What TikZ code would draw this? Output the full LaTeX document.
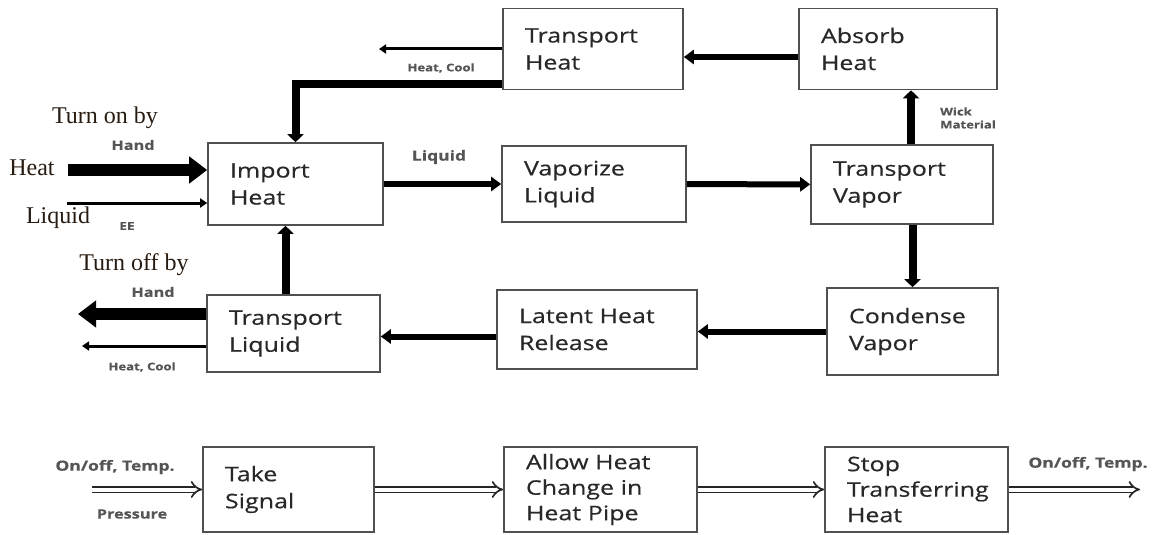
\documentclass[tikz,border=0pt]{standalone}
\usepackage{fontspec}
\setmainfont{Liberation Serif}
\newfontfamily\boxfont[FakeStretch=1.25,FakeBold=0.5]{Open Sans}
\usetikzlibrary{arrows.meta}
\definecolor{boxline}{RGB}{80,80,80}
\definecolor{boxtext}{RGB}{40,40,40}
\definecolor{lblgray}{RGB}{85,85,85}
\definecolor{serifink}{RGB}{40,28,18}

\begin{document}
\begin{tikzpicture}[x=1pt,y=-1pt,
  fn/.style={draw=boxline, line width=1.6pt, fill=white, align=left, inner xsep=22pt, inner ysep=2pt, text=boxtext, font=\boxfont\fontsize{20}{27}\selectfont},
  fn3/.style={fn, font=\boxfont\fontsize{20}{25.5}\selectfont},
  lbl/.style={text=lblgray, inner sep=0pt, font=\boxfont\bfseries\fontsize{13}{15}\selectfont},
  tiny/.style={text=lblgray, inner sep=0pt, align=left, font=\boxfont\bfseries\fontsize{10.5}{13}\selectfont},
  serif/.style={text=serifink, inner sep=0pt, font=\fontsize{24}{26}\selectfont},
  heavy/.style={line width=12pt, -{Triangle[width=26pt,length=18pt]}},
  flow/.style={line width=6pt, -{Triangle[width=14pt,length=10pt]}},
  vflow/.style={line width=8pt, -{Triangle[width=16pt,length=8pt]}},
  thin/.style={line width=3pt, -{Triangle[width=9pt,length=7pt]}},
  sig/.style={draw=black!85, double=white, line width=1.7pt, double distance=4pt, -{Implies}},
]
\useasboundingbox (0,0) rectangle (1161,535);
\fill[white] (0,0) rectangle (1161,535);

% ---------- function boxes ----------
\node[fn, text width=136pt, minimum height=81pt] (theat)    at (593,49)    {Transport\\Heat};
\node[fn, text width=154pt, minimum height=81pt] (absorb)   at (898,49)    {Absorb\\Heat};
\node[fn, text width=131pt, minimum height=82pt] (import)   at (295.5,184) {Import\\Heat};
\node[fn, text width=140pt, minimum height=76pt] (vaporize) at (594,184)   {Vaporize\\Liquid};
\node[fn, text width=138pt, minimum height=79pt] (tvapor)   at (902,184.5) {Transport\\Vapor};
\node[fn, text width=127pt, minimum height=87pt] (condense) at (912.5,331.5) {Condense\\Vapor};
\node[fn, text width=156pt, minimum height=79pt] (latent)   at (597,329.5) {Latent Heat\\Release};
\node[fn, text width=129pt, minimum height=77pt] (tliquid)  at (293.5,333.5) {Transport\\Liquid};
\node[fn, text width=127pt, minimum height=85pt] (takesig)  at (288.5,489.5) {Take\\Signal};
\node[fn3, text width=149pt, minimum height=85pt] (allow)   at (600.5,489.5) {Allow Heat\\Change in\\Heat Pipe};
\node[fn3, text width=139pt, minimum height=85pt] (stop)    at (916.5,489.5) {Stop\\Transferring\\Heat};

% ---------- labels ----------
\node[serif] (turnon)  at (105,118) {Turn on by};
\node[lbl]   (handon)  at (133,145) {Hand};
\node[serif] (heatlbl) at (32,168)  {Heat};
\node[serif] (liqlbl)  at (58,218)  {Liquid};
\node[tiny, font=\boxfont\bfseries\fontsize{11}{13}\selectfont] (eelbl) at (127,226) {EE};
\node[serif] (turnoff) at (134,265) {Turn off by};
\node[lbl]   (handoff) at (153,292) {Hand};
\node[tiny]  (coolL)   at (142,367) {Heat, Cool};
\node[tiny]  (coolT)   at (441,68)  {Heat, Cool};
\node[lbl, font=\boxfont\bfseries\fontsize{14}{16}\selectfont] (liqflow) at (439,157) {Liquid};
\node[tiny, anchor=west] (wick) at (940,118) {Wick\\Material};
\node[lbl, font=\boxfont\bfseries\fontsize{14}{16}\selectfont] (sigtop) at (115,467) {On/off, Temp.};
\node[lbl]   (sigbot)  at (132,514) {Pressure};
\node[lbl, font=\boxfont\bfseries\fontsize{14}{16}\selectfont] (sigend) at (1088,464) {On/off, Temp.};

% ---------- free ends ----------
\coordinate (heatin)  at (68,170);
\coordinate (liqin)   at (67,203);
\coordinate (offout)  at (78,314);
\coordinate (coolout) at (82,346);
\coordinate (thout)   at (379,49);
\coordinate (sigin)   at (92,489.5);
\coordinate (sigout)  at (1140,489.5);

% ---------- main loop ----------
\draw[heavy] (heatin) -- (heatin -| import.west);
\draw[thin] (liqin) -- (liqin -| import.west);
\draw[flow] (import) -- (vaporize);
\draw[flow] (vaporize) -- (tvapor);
\draw[vflow] ([xshift=9pt]tvapor.north) -- ([xshift=9pt]tvapor.north |- absorb.south);
\draw[vflow] (condense.north |- tvapor.south) -- (condense.north);
\draw[flow] ([yshift=-8pt]absorb.west) -- ([yshift=-8pt]absorb.west -| theat.east);
\draw[thin] (theat.west) -- (thout);
\draw[vflow] ([yshift=-35pt]theat.west) -| (import.north);
\draw[flow] (condense.west) -- (condense.west -| latent.east);
\draw[flow] ([yshift=-7pt]latent.west) -- ([yshift=-7pt]latent.west -| tliquid.east);
\draw[vflow] ([xshift=-8pt]tliquid.north) -- ([xshift=-8pt]tliquid.north |- import.south);
\draw[heavy] ([yshift=19.5pt]tliquid.west) -- (offout);
\draw[thin] ([yshift=-12.5pt]tliquid.west) -- (coolout);

% ---------- signal chain ----------
\draw[sig] (sigin) -- (takesig);
\draw[sig] (takesig) -- (allow);
\draw[sig] (allow) -- (stop);
\draw[sig] (stop) -- (sigout);
\end{tikzpicture}
\end{document}
